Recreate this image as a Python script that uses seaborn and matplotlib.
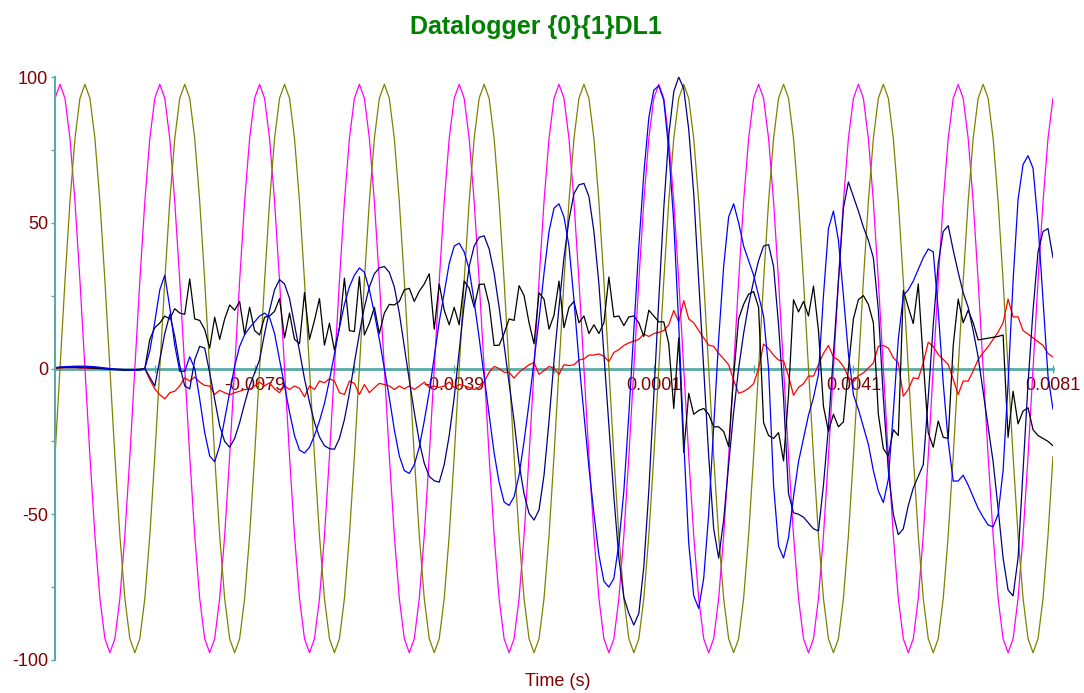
import numpy as np
import pandas as pd
import matplotlib
matplotlib.use("Agg")
import matplotlib.pyplot as plt
import seaborn as sns

# sample clock of the logger
t_start = -0.0119
t_step = 0.0001

# channel values, one sample every 0.1 ms
magenta = [
    92.7, 97.5, 92.7, 78.9, 57.3, 30.1, 0, -30.1, -57.3, -78.9, -92.7, -97.5, -92.7, -78.9, -57.3, -30.1, 0, 30.1, 57.3, 78.9,
    92.7, 97.5, 92.7, 78.9, 57.3, 30.1, 0, -30.1, -57.3, -78.9, -92.7, -97.5, -92.7, -78.9, -57.3, -30.1, 0, 30.1, 57.3, 78.9,
    92.7, 97.5, 92.7, 78.9, 57.3, 30.1, 0, -30.1, -57.3, -78.9, -92.7, -97.5, -92.7, -78.9, -57.3, -30.1, 0, 30.1, 57.3, 78.9,
    92.7, 97.5, 92.7, 78.9, 57.3, 30.1, 0, -30.1, -57.3, -78.9, -92.7, -97.5, -92.7, -78.9, -57.3, -30.1, 0, 30.1, 57.3, 78.9,
    92.7, 97.5, 92.7, 78.9, 57.3, 30.1, 0, -30.1, -57.3, -78.9, -92.7, -97.5, -92.7, -78.9, -57.3, -30.1, 0, 30.1, 57.3, 78.9,
    92.7, 97.5, 92.7, 78.9, 57.3, 30.1, 0, -30.1, -57.3, -78.9, -92.7, -97.5, -92.7, -78.9, -57.3, -30.1, 0, 30.1, 57.3, 78.9,
    92.7, 97.5, 92.7, 78.9, 57.3, 30.1, 0, -30.1, -57.3, -78.9, -92.7, -97.5, -92.7, -78.9, -57.3, -30.1, 0, 30.1, 57.3, 78.9,
    92.7, 97.5, 92.7, 78.9, 57.3, 30.1, 0, -30.1, -57.3, -78.9, -92.7, -97.5, -92.7, -78.9, -57.3, -30.1, 0, 30.1, 57.3, 78.9,
    92.7, 97.5, 92.7, 78.9, 57.3, 30.1, 0, -30.1, -57.3, -78.9, -92.7, -97.5, -92.7, -78.9, -57.3, -30.1, 0, 30.1, 57.3, 78.9,
    92.7, 97.5, 92.7, 78.9, 57.3, 30.1, 0, -30.1, -57.3, -78.9, -92.7, -97.5, -92.7, -78.9, -57.3, -30.1, 0, 30.1, 57.3, 78.9,
    92.7,
]

olive = [
    -30.1, 0, 30.1, 57.3, 78.9, 92.7, 97.5, 92.7, 78.9, 57.3, 30.1, 0, -30.1, -57.3, -78.9, -92.7, -97.5, -92.7, -78.9, -57.3,
    -30.1, 0, 30.1, 57.3, 78.9, 92.7, 97.5, 92.7, 78.9, 57.3, 30.1, 0, -30.1, -57.3, -78.9, -92.7, -97.5, -92.7, -78.9, -57.3,
    -30.1, 0, 30.1, 57.3, 78.9, 92.7, 97.5, 92.7, 78.9, 57.3, 30.1, 0, -30.1, -57.3, -78.9, -92.7, -97.5, -92.7, -78.9, -57.3,
    -30.1, 0, 30.1, 57.3, 78.9, 92.7, 97.5, 92.7, 78.9, 57.3, 30.1, 0, -30.1, -57.3, -78.9, -92.7, -97.5, -92.7, -78.9, -57.3,
    -30.1, 0, 30.1, 57.3, 78.9, 92.7, 97.5, 92.7, 78.9, 57.3, 30.1, 0, -30.1, -57.3, -78.9, -92.7, -97.5, -92.7, -78.9, -57.3,
    -30.1, 0, 30.1, 57.3, 78.9, 92.7, 97.5, 92.7, 78.9, 57.3, 30.1, 0, -30.1, -57.3, -78.9, -92.7, -97.5, -92.7, -78.9, -57.3,
    -30.1, 0, 30.1, 57.3, 78.9, 92.7, 97.5, 92.7, 78.9, 57.3, 30.1, 0, -30.1, -57.3, -78.9, -92.7, -97.5, -92.7, -78.9, -57.3,
    -30.1, 0, 30.1, 57.3, 78.9, 92.7, 97.5, 92.7, 78.9, 57.3, 30.1, 0, -30.1, -57.3, -78.9, -92.7, -97.5, -92.7, -78.9, -57.3,
    -30.1, 0, 30.1, 57.3, 78.9, 92.7, 97.5, 92.7, 78.9, 57.3, 30.1, 0, -30.1, -57.3, -78.9, -92.7, -97.5, -92.7, -78.9, -57.3,
    -30.1, 0, 30.1, 57.3, 78.9, 92.7, 97.5, 92.7, 78.9, 57.3, 30.1, 0, -30.1, -57.3, -78.9, -92.7, -97.5, -92.7, -78.9, -57.3,
    -30.1,
]

red = [
    0.1, 0.2, 0.3, 0.3, 0.3, 0.2, 0.2, 0.1, 0, 0, -0.1, -0.2, -0.3, -0.3, -0.4, -0.4, -0.4, -0.3,
    0, -3.8, -7, -9, -10.4, -8.3, -7.8, -6, -3.2, -4.3,
    -2.9, -4.7, -5.8, -6, -8.9, -7.5, -8.3, -9, -8.3, -7.8,
    -7.2, -7.2, -6, -4.7, -6, -4.9, -7, -8.3, -6, -7.2,
    -6, -6.8, -9.7, -6, -7.2, -4.3, -4.9, -3.5, -4.3, -8.3,
    -8.9, -4.3, -5.1, -8.9, -5.5, -8.3, -6.6, -5.1, -5.5, -6,
    -7.2, -6, -7, -6, -7.2, -6, -4.7, -6.5, -6, -6.5,
    -6, -4.6, -6.5, -5.5, -5.9, -6.5, -7.2, -6.5, -4.6, -1.3,
    0.7, 0, -1.3, -1.3, -3.3, -1.3, 0, 1.3, 2, -2,
    -0.7, 0.7, 0, -2, 1.3, 1, 1.3, 2.9, 3.3, 4.6,
    4.6, 5, 4.2, 2.4, 5.5, 6.5, 7.9, 8.8, 9.4, 10,
    11.8, 11, 12, 12.4, 13, 15, 19.9, 16, 23.3, 17,
    15.7, 13, 10.5, 8, 7.6, 5.2, 3.3, 1.3, -4, -8.5,
    -7.9, -6.8, -5.2, 0, 8.4, 6.8, 4.6, 2.9, 2.6, -2.6,
    -9.2, -6.5, -5.2, -2.6, -2.6, 1.3, 5.2, 7.9, 3.9, 2.9,
    0.7, -3, -4.5, -2.5, -1.5, 0.2, 1.9, 7.6, 7.9, 7,
    3.7, 1.9, -9.5, -7.2, -3.2, -3.5, 1.9, 9, 7.6, 4.8,
    3.1, 1.4, -3.8, -8.9, -4.3, -4.3, -0.9, 3.1, 5.4, 7.5,
    10, 12.5, 15.7, 23.8, 17.7, 17.7, 13, 11.8, 10.5, 9.2,
    7.9, 5.2, 3.9,
]

black = [
    0.2, 0.3, 0.4, 0.4, 0.4, 0.3, 0.3, 0.2, 0.1, 0, -0.1, -0.2, -0.3, -0.4, -0.4, -0.4, -0.4, -0.3,
    0, 10, 14, 15.6, 18, 17, 20.5, 19, 18.6, 30.7,
    17, 16.5, 13.4, 7, 17.6, 10, 17, 21.8, 20, 23,
    11.6, 21, 13, 11.5, 17.6, 18, 19.6, 24, 10.5, 19,
    10, 8.5, 26, 10, 16.5, 24, 8, 15.5, 6.3, 14,
    31, 13, 12.7, 31.5, 11.5, 15.5, 21, 12, 19, 22,
    21.8, 23, 27, 27.5, 23, 26.5, 29, 32.5, 13.5, 29,
    20, 15, 21, 15, 30, 27.5, 21, 28.8, 29, 22,
    7.9, 8, 12, 17, 16.5, 28.4, 25, 15.7, 8.5, 26,
    23.8, 13.5, 18.3, 30, 14, 21, 23, 15.7, 18, 12,
    15, 12, 15.7, 31.4, 17.7, 18, 14.7, 17.7, 18, 15.7,
    11, 20, 18, 16, 16, 8.5, -13.7, 10.5, -28.8, -8.5,
    -15.7, -14.4, -13.7, -15.7, -20, -20, -21.6, -26.8, -2.6, 17,
    22, 25.5, 26.4, 21, -18.6, -23, -24, -22, -31.7, -9,
    23.6, 19.4, 23, 18, 28.3, 13, -13, -21.6, -15.7, -20,
    -18.3, 0, 17, 23.6, 25, 22, 15.7, -15.7, -27.5, -30,
    -21, -23, 26.8, 21, 15.4, 29, 2.6, -22, -27, -18,
    -23.6, -24, 7.9, 23.8, 15.7, 20, 15.7, 9.8, 10.1, 10.4,
    10.7, 11, 11.5, -23.6, -7.8, -19, -14.6, -13.5, -21, -23,
    -24, -25, -26.5,
]

navy = [
    0.2, 0.4, 0.5, 0.6, 0.6, 0.6, 0.5, 0.4, 0.3, 0.2, 0, -0.2, -0.4, -0.5, -0.6, -0.6, -0.6, -0.5,
    0, -3, -6, 3, 12, 18.5, 11, 1, -6, -7,
    3, 7.6, 7, -1.5, -10.6, -19.7, -25, -27, -24, -18.6,
    -12, -6, -1.5, 3, 12, 20, 27, 30.5, 29, 24,
    15, 6, -3.5, -11.5, -18.5, -23.5, -26.5, -27.5, -27.7, -24,
    -17.5, -8.5, 2, 12, 21, 28, 32.5, 34.5, 35, 33,
    28, 19, 7.5, -4, -15, -25, -32.5, -37, -38.5, -39,
    -33, -23, -10, 6, 22, 35, 42, 45, 45.5, 41,
    32.7, 21, 8, -5, -18, -32.7, -43, -49.7, -52, -48.5,
    -36.6, -18, 2.6, 21, 38, 51, 60, 63, 63.5, 59,
    47, 29, 5, -19.6, -44, -65, -78.5, -84, -88, -84,
    -68, -42, -9, 23.5, 55, 80, 95, 100, 96, 82,
    60, 30, 0, -30, -55, -65, -52, -33, -15, 0,
    12, 22, 30, 37, 42, 42.5, 35, 15, -10, -43,
    -49.5, -50, -51, -53, -55, -55.7, -40, -20, 5, 30,
    55, 64, 59, 54, 48.5, 44, 38, 20, -10, -35,
    -50, -57, -55, -47, -41, -37, -33, -10, 15, 36,
    47, 49, 40.6, 33, 26, 21, 13, 4, -8, -20,
    -32, -48, -65, -76, -78, -65, -35, -5, 20, 40,
    47, 48, 38,
]

blue = [
    0.3, 0.5, 0.6, 0.7, 0.8, 0.8, 0.8, 0.7, 0.6, 0.4, 0.2, 0, -0.2, -0.3, -0.4, -0.5, -0.5, -0.5,
    0, 6, 16, 27, 32, 21, 8, -1, -1, 4,
    0, -10.5, -22, -30, -32, -26.5, -17.5, -8.3, 0.8, 7.6,
    11.6, 14, 16, 18, 19, 17.5, 12, 3, -6, -15,
    -23, -28, -29, -27, -23, -18, -12, -4, 5, 14,
    22, 28, 32, 34.5, 33, 27, 19, 10, 0, -10,
    -21, -30, -35, -36, -33, -27, -18, -8, 4, 16,
    26, 36, 42, 43, 40, 34, 23, 10.5, -2.6, -15.7,
    -29, -39, -45.8, -47, -44, -36.6, -25, -11.8, 2.6, 17,
    32.7, 47, 55, 56.5, 52, 42, 23.5, 2.6, -15.7, -34,
    -49.7, -64, -73, -75, -72, -60, -42, -15.7, 13, 42,
    66.8, 86, 95.5, 97, 92, 75, 50, 15, -25, -60,
    -78, -82.3, -72, -50, -20, 10, 35, 52, 56.5, 50,
    42, 37, 32, 25, 18, 0, -40, -61, -65, -58,
    -44, -32, -24, -16, -10, -2, 25, 48, 54, 44,
    25, 5, -9, -14, -20, -26, -35, -42, -46, -38,
    -15, 10, 25, 27, 30, 34, 38, 41, 40, 20,
    -5, -25, -38.6, -38.6, -36.6, -40, -44, -48, -51, -53.7,
    -54.3, -50, -35, -5, 30, 58, 70, 73, 68.7, 49.7,
    23.6, -2.6, -14,
]

channel_names = ["CH1", "CH2", "CH3", "CH4", "CH5", "CH6"]
channel_values = [magenta, olive, red, black, navy, blue]
channel_colors = ["#ff00ff", "#808000", "#ff0000", "#000000", "#000080", "#0000ff"]

xtick_major = [-0.0079, -0.0039, 0.0001, 0.0041, 0.0081]
xtick_labels = ["-0.0079", "-0.0039", "0.0001", "0.0041", "0.0081"]
xtick_minor = [-0.0099, -0.0059, -0.0019, 0.0021, 0.0061]
ytick_major = [-100, -50, 0, 50, 100]
ytick_minor = [-75, -25, 25, 75]

frames = []
for name, vals in zip(channel_names, channel_values):
    frames.append(pd.DataFrame({
        "time": t_start + t_step * np.arange(len(vals)),
        "value": vals,
        "channel": name,
    }))
df = pd.concat(frames, ignore_index=True)

sns.set_style("white")
plt.rcParams["font.family"] = ["Liberation Sans", "DejaVu Sans"]

teal = "#5aaaa6"
dark_red = "#800000"

fig = plt.figure(figsize=(10.84, 6.93), dpi=100)
ax = fig.add_axes([55 / 1084, 33 / 693, 998 / 1084, 583 / 693])

sns.lineplot(data=df, x="time", y="value", hue="channel", hue_order=channel_names,
             palette=dict(zip(channel_names, channel_colors)), estimator=None,
             sort=False, legend=False, linewidth=0.9, ax=ax)

ax.set_xlim(t_start, t_start + t_step * (len(magenta) - 1))
ax.set_ylim(-100, 100)
ax.set_xlabel("")
ax.set_ylabel("")

for side in ["top", "right"]:
    ax.spines[side].set_visible(False)
ax.spines["left"].set_color(teal)
ax.spines["left"].set_linewidth(1.5)
ax.spines["bottom"].set_position(("data", 0))
ax.spines["bottom"].set_color(teal)
ax.spines["bottom"].set_linewidth(2)
ax.spines["bottom"].set_zorder(0.5)

ax.set_xticks(xtick_major)
ax.set_xticklabels(xtick_labels)
ax.set_xticks(xtick_minor, minor=True)
ax.set_yticks(ytick_major)
ax.set_yticklabels([str(v) for v in ytick_major])
ax.set_yticks(ytick_minor, minor=True)

ax.tick_params(axis="x", which="both", direction="inout", length=6, width=1,
               color=teal, labelcolor=dark_red, labelsize=13, pad=3, bottom=True)
ax.tick_params(axis="y", which="both", direction="out", length=3, width=1,
               color=teal, labelcolor=dark_red, labelsize=13, pad=2, left=True)

fig.text(536 / 1084, 1 - 27 / 693, "Datalogger {0}{1}DL1", color="#008000",
         fontsize=18, fontweight="bold", ha="center", va="center")
fig.text(558 / 1084, 12 / 693, "Time (s)", color=dark_red, fontsize=13,
         ha="center", va="center")

fig.savefig("out.png", dpi=100)
